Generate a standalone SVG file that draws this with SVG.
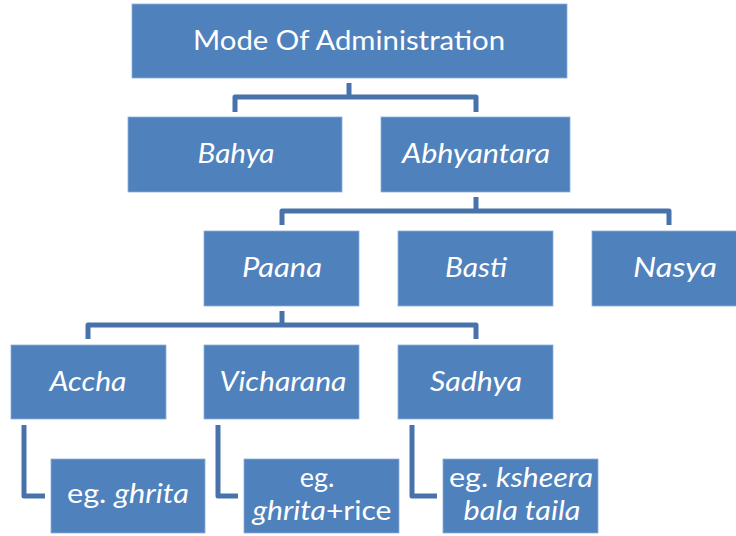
<svg xmlns="http://www.w3.org/2000/svg" width="736" height="536" viewBox="0 0 736 536">
<style>
.box{fill:#4F81BD;stroke:#8EAEDA;stroke-width:0.8}
.t{font-family:Lato,"Open Sans","Liberation Sans",sans-serif;font-size:27px;fill:#FFFFFF;text-anchor:middle}
.i{font-style:italic}
.c{fill:none;stroke:#4873AA;stroke-width:5;stroke-linejoin:round;stroke-linecap:butt}
</style>
<rect width="736" height="536" fill="#FFFFFF"/>
<g id="connectors">
<path class="c" d="M349,83 V97"/>
<path class="c" d="M235,112 V97 H476 V112"/>
<path class="c" d="M476,197 V211"/>
<path class="c" d="M282,225 V211 H669 V225"/>
<path class="c" d="M282,311 V325"/>
<path class="c" d="M88,339 V325 H476 V339"/>
<path class="c" d="M24,425 V496 H45"/>
<path class="c" d="M218,425 V496 H238"/>
<path class="c" d="M412,425 V496 H437"/>
</g>
<g id="mode">
<rect class="box" x="132" y="4" width="435" height="74"/>
<text class="t" x="349" y="50" textLength="312" lengthAdjust="spacingAndGlyphs">Mode Of Administration</text>
</g>
<g id="bahya">
<rect class="box" x="128" y="117" width="214" height="75"/>
<text class="t i" x="236" y="163" textLength="77" lengthAdjust="spacingAndGlyphs">Bahya</text>
</g>
<g id="abhyantara">
<rect class="box" x="381" y="117" width="189" height="75"/>
<text class="t i" x="476" y="163" textLength="148" lengthAdjust="spacingAndGlyphs">Abhyantara</text>
</g>
<g id="paana">
<rect class="box" x="204" y="231" width="155" height="75"/>
<text class="t i" x="282" y="277" textLength="80" lengthAdjust="spacingAndGlyphs">Paana</text>
</g>
<g id="basti">
<rect class="box" x="398" y="231" width="155" height="75"/>
<text class="t i" x="476" y="277" textLength="62" lengthAdjust="spacingAndGlyphs">Basti</text>
</g>
<g id="nasya">
<rect class="box" x="592" y="231" width="155" height="75"/>
<text class="t i" x="675" y="277" textLength="84" lengthAdjust="spacingAndGlyphs">Nasya</text>
</g>
<g id="accha">
<rect class="box" x="11" y="345" width="155" height="74"/>
<text class="t i" x="88" y="391" textLength="77" lengthAdjust="spacingAndGlyphs">Accha</text>
</g>
<g id="vicharana">
<rect class="box" x="204" y="345" width="155" height="74"/>
<text class="t i" x="283" y="391" textLength="127" lengthAdjust="spacingAndGlyphs">Vicharana</text>
</g>
<g id="sadhya">
<rect class="box" x="398" y="345" width="155" height="74"/>
<text class="t i" x="476" y="391" textLength="92" lengthAdjust="spacingAndGlyphs">Sadhya</text>
</g>
<g id="eg-ghrita">
<rect class="box" x="51" y="459" width="154" height="74"/>
<text class="t" x="128" y="503" textLength="122" lengthAdjust="spacingAndGlyphs">eg. <tspan class="i">ghrita</tspan></text>
</g>
<g id="eg-ghrita-rice">
<rect class="box" x="244" y="459" width="155" height="74"/>
<text class="t" x="317" y="487">eg.</text>
<text class="t" x="322" y="520" textLength="139" lengthAdjust="spacingAndGlyphs"><tspan class="i">ghrita</tspan>+rice</text>
</g>
<g id="eg-ksheera">
<rect class="box" x="443" y="459" width="155" height="74"/>
<text class="t" x="521" y="487" textLength="144" lengthAdjust="spacingAndGlyphs">eg. <tspan class="i">ksheera</tspan></text>
<text class="t i" x="522" y="520" textLength="117" lengthAdjust="spacingAndGlyphs">bala taila</text>
</g>
</svg>
